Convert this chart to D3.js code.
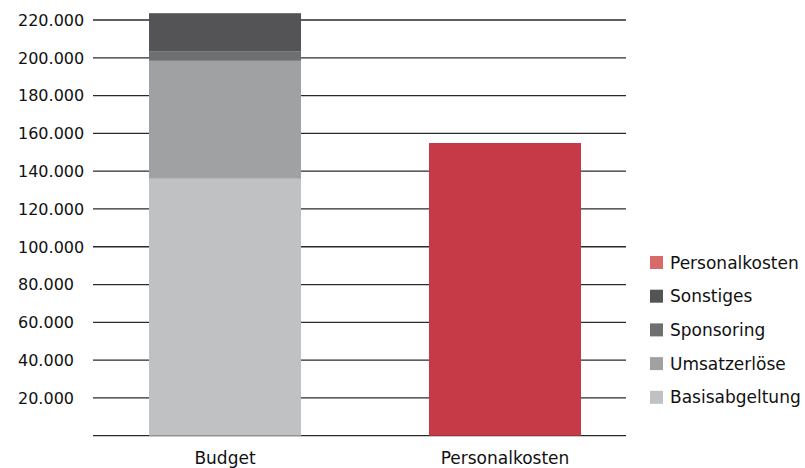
<!DOCTYPE html>
<html><head><meta charset="utf-8">
<script src="https://cdn.jsdelivr.net/npm/d3@7"></script>
<style>body{margin:0;background:#fff}svg{display:block}text{font-family:"DejaVu Sans",sans-serif;fill:#111}</style>
</head><body>
<svg id="c" width="805" height="468"></svg>
<script>
const categories = ["Budget", "Personalkosten"];
const stackSeries = ["Basisabgeltung", "Umsatzerlöse", "Sponsoring", "Sonstiges"];
const budgetValues = [136000, 62400, 5100, 20100];
const personalkostenValue = [154900];
const tickValues = [20000, 40000, 60000, 80000, 100000, 120000, 140000, 160000, 180000, 200000, 220000];
const legendItems = ["Personalkosten", "Sonstiges", "Sponsoring", "Umsatzerlöse", "Basisabgeltung"];
const colors = {Basisabgeltung:"#c0c1c3", "Umsatzerlöse":"#a0a1a3", Sponsoring:"#6e6f71", Sonstiges:"#545456", Personalkosten:"#c63946"};
const legendColors = {Basisabgeltung:"#c0c1c3", "Umsatzerlöse":"#a0a1a3", Sponsoring:"#6e6f71", Sonstiges:"#545456", Personalkosten:"#d86a6a"};

const svg = d3.select("#c");
const x0 = 93, x1 = 626;
const y = d3.scaleLinear().domain([0, 220000]).range([435.7, 20]);
const x = d3.scaleBand().domain(categories).range([93, 637]).paddingInner(0.457).paddingOuter(0.2);

// gridlines
svg.append("g").selectAll("line").data([0, ...tickValues]).join("line")
  .attr("x1", x0).attr("x2", x1)
  .attr("y1", d => y(d)).attr("y2", d => y(d))
  .attr("stroke", "#2a2a2a").attr("stroke-width", 1.3);

// tick labels
const fmt = d => d3.format(",")(d).replace(/,/g, ".");
svg.append("g").selectAll("text").data(tickValues).join("text")
  .attr("x", 18).attr("y", d => y(d)).attr("dy", "0.36em")
  .attr("font-size", 16).text(fmt);

// stacked budget
const row = {cat: "Budget"};
stackSeries.forEach((s, i) => row[s] = budgetValues[i]);
const stacked = d3.stack().keys(stackSeries)([row]);
svg.append("g").selectAll("rect").data(stacked).join("rect")
  .attr("x", x("Budget")).attr("width", x.bandwidth())
  .attr("y", d => y(d[0][1])).attr("height", d => y(d[0][0]) - y(d[0][1]))
  .attr("fill", d => colors[d.key]);

// personalkosten
svg.append("g").selectAll("rect").data(personalkostenValue).join("rect")
  .attr("x", x("Personalkosten")).attr("width", x.bandwidth())
  .attr("y", d => y(d)).attr("height", d => y(0) - y(d))
  .attr("fill", colors.Personalkosten);

// category labels
svg.append("g").selectAll("text").data(categories).join("text")
  .attr("x", d => x(d) + x.bandwidth() / 2).attr("y", 464)
  .attr("text-anchor", "middle").attr("font-size", 17).text(d => d);

// legend
const lg = svg.append("g").selectAll("g").data(legendItems).join("g")
  .attr("transform", (d, i) => `translate(650,${256 + i * 33.7})`);
lg.append("rect").attr("width", 13).attr("height", 13).attr("fill", d => legendColors[d]);
lg.append("text").attr("x", 20).attr("y", 6.5).attr("dy", "0.36em").attr("font-size", 17).text(d => d);
</script>
</body></html>
